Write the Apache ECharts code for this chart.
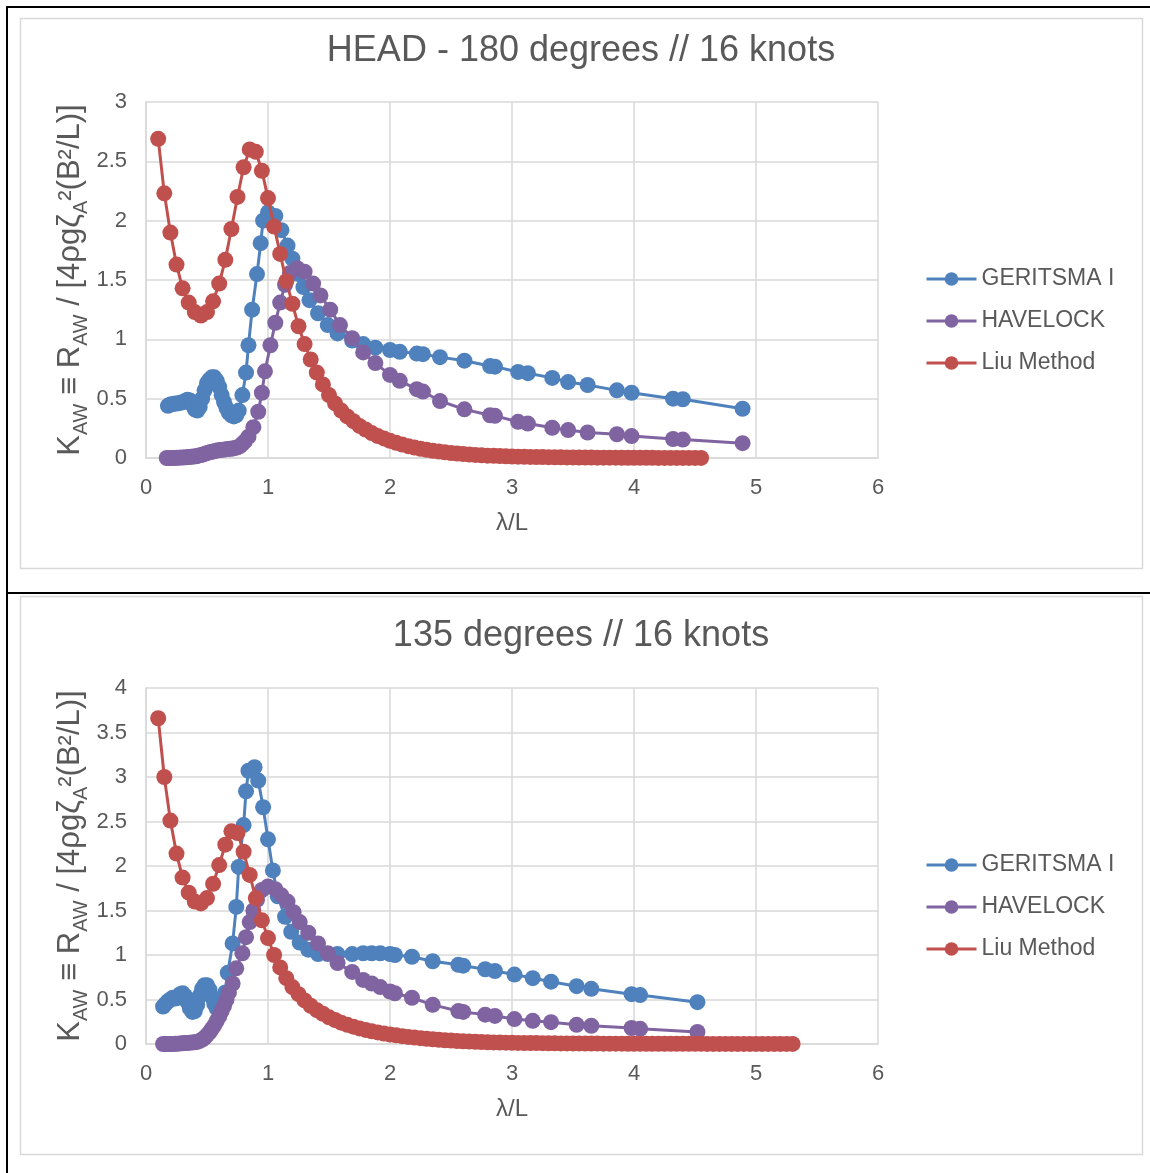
<!DOCTYPE html>
<html>
<head>
<meta charset="utf-8">
<script src="https://cdn.jsdelivr.net/npm/echarts@6/dist/echarts.min.js"></script>
<style>
  html, body { margin: 0; padding: 0; background: #ffffff; }
  #chart { width: 1150px; height: 1173px; }
</style>
</head>
<body>
<div id="chart"></div>
<script>
// ---------------- DATA ----------------
const seriesNames = ['GERITSMA I', 'HAVELOCK', 'Liu Method'];
const titles = ['HEAD - 180 degrees // 16 knots', '135 degrees // 16 knots'];
const xTicks = [0, 1, 2, 3, 4, 5, 6];
const yTicksTop = [0, 0.5, 1, 1.5, 2, 2.5, 3];
const yTicksBottom = [0, 0.5, 1, 1.5, 2, 2.5, 3, 3.5, 4];

// Chart 1: HEAD - 180 degrees
const headGeritsma = [[0.18,0.44],[0.20,0.45],[0.22,0.455],[0.24,0.46],[0.26,0.46],[0.28,0.465],[0.30,0.47],[0.32,0.48],[0.34,0.49],[0.36,0.485],[0.38,0.45],[0.40,0.41],[0.42,0.40],[0.44,0.43],[0.46,0.50],[0.48,0.57],[0.50,0.63],[0.52,0.66],[0.54,0.68],[0.56,0.68],[0.58,0.65],[0.60,0.60],[0.62,0.53],[0.64,0.47],[0.66,0.42],[0.68,0.38],[0.70,0.36],[0.72,0.35],[0.74,0.36],[0.76,0.40],[0.79,0.53],[0.82,0.72],[0.84,0.95],[0.87,1.25],[0.91,1.55],[0.94,1.81],[0.96,2.00],[1.00,2.07],[1.06,2.04],[1.11,1.92],[1.16,1.79],[1.20,1.68],[1.25,1.55],[1.29,1.44],[1.34,1.33],[1.41,1.22],[1.49,1.12],[1.57,1.05],[1.69,0.99],[1.78,0.96],[1.88,0.93],[2.00,0.91],[2.08,0.895],[2.22,0.88],[2.27,0.875],[2.41,0.85],[2.61,0.82],[2.82,0.775],[2.86,0.77],[3.05,0.725],[3.13,0.715],[3.33,0.675],[3.46,0.64],[3.62,0.615],[3.86,0.57],[3.98,0.55],[4.32,0.50],[4.40,0.495],[4.89,0.415]];
const headHavelock = [[0.17,0.0],[0.19,0.0],[0.21,0.0],[0.23,0.0],[0.25,0.002],[0.27,0.003],[0.29,0.004],[0.31,0.005],[0.33,0.006],[0.35,0.008],[0.37,0.01],[0.39,0.012],[0.41,0.015],[0.43,0.02],[0.45,0.025],[0.47,0.03],[0.49,0.038],[0.51,0.045],[0.53,0.05],[0.55,0.055],[0.57,0.06],[0.59,0.065],[0.61,0.068],[0.63,0.07],[0.65,0.072],[0.67,0.075],[0.69,0.078],[0.71,0.08],[0.73,0.085],[0.75,0.09],[0.77,0.10],[0.79,0.12],[0.81,0.14],[0.84,0.18],[0.88,0.26],[0.92,0.39],[0.95,0.55],[0.975,0.73],[1.02,0.95],[1.06,1.14],[1.10,1.31],[1.14,1.46],[1.18,1.56],[1.24,1.60],[1.30,1.57],[1.37,1.47],[1.43,1.37],[1.51,1.25],[1.59,1.12],[1.69,1.01],[1.78,0.89],[1.88,0.80],[2.00,0.70],[2.08,0.65],[2.22,0.58],[2.27,0.56],[2.41,0.48],[2.61,0.41],[2.82,0.36],[2.86,0.355],[3.05,0.305],[3.13,0.29],[3.33,0.255],[3.46,0.235],[3.62,0.215],[3.86,0.20],[3.98,0.185],[4.32,0.16],[4.40,0.155],[4.89,0.125]];
const headLiu = [[0.10,2.69],[0.15,2.23],[0.20,1.90],[0.25,1.63],[0.30,1.43],[0.35,1.31],[0.40,1.23],[0.45,1.20],[0.50,1.23],[0.55,1.32],[0.60,1.47],[0.65,1.67],[0.70,1.93],[0.75,2.20],[0.80,2.45],[0.85,2.60],[0.90,2.58],[0.95,2.42],[1.00,2.19],[1.05,1.95],[1.10,1.72],[1.15,1.49],[1.20,1.30],[1.25,1.11],[1.30,0.96],[1.35,0.83],[1.40,0.72],[1.45,0.62],[1.50,0.53],[1.55,0.46],[1.60,0.40],[1.65,0.35],[1.70,0.31],[1.75,0.27],[1.80,0.24],[1.85,0.21],[1.90,0.185],[1.95,0.165],[2.00,0.145],[2.05,0.128],[2.10,0.113],[2.15,0.10],[2.20,0.088],[2.25,0.078],[2.30,0.069],[2.35,0.061],[2.40,0.054],[2.45,0.048],[2.50,0.042],[2.55,0.037],[2.60,0.033],[2.65,0.029],[2.70,0.026],[2.75,0.023],[2.80,0.02],[2.85,0.018],[2.90,0.016],[2.95,0.014],[3.00,0.012],[3.05,0.011],[3.10,0.010],[3.15,0.009],[3.20,0.008],[3.25,0.008],[3.30,0.007],[3.35,0.006],[3.40,0.006],[3.45,0.005],[3.50,0.005],[3.55,0.004],[3.60,0.004],[3.65,0.004],[3.70,0.003],[3.75,0.003],[3.80,0.003],[3.85,0.003],[3.90,0.002],[3.95,0.002],[4.00,0.002],[4.05,0.002],[4.10,0.002],[4.15,0.002],[4.20,0.001],[4.25,0.001],[4.30,0.001],[4.35,0.001],[4.40,0.001],[4.45,0.001],[4.50,0.001],[4.55,0.001]];

// Chart 2: 135 degrees
const bowGeritsma = [[0.14,0.42],[0.16,0.45],[0.18,0.48],[0.20,0.50],[0.22,0.52],[0.24,0.51],[0.26,0.52],[0.28,0.56],[0.30,0.57],[0.32,0.54],[0.34,0.47],[0.36,0.40],[0.38,0.36],[0.40,0.37],[0.42,0.44],[0.44,0.54],[0.46,0.62],[0.48,0.66],[0.50,0.66],[0.52,0.61],[0.54,0.53],[0.56,0.45],[0.58,0.40],[0.60,0.39],[0.62,0.43],[0.65,0.58],[0.67,0.80],[0.71,1.13],[0.74,1.54],[0.76,1.99],[0.80,2.46],[0.82,2.84],[0.84,3.07],[0.89,3.11],[0.92,2.96],[0.96,2.66],[1.00,2.30],[1.04,1.95],[1.08,1.66],[1.14,1.43],[1.19,1.26],[1.26,1.14],[1.33,1.06],[1.41,1.01],[1.49,1.01],[1.57,1.01],[1.69,1.01],[1.78,1.02],[1.85,1.02],[1.92,1.02],[2.00,1.01],[2.04,1.00],[2.18,0.98],[2.35,0.93],[2.56,0.89],[2.60,0.88],[2.78,0.84],[2.86,0.82],[3.02,0.78],[3.17,0.74],[3.32,0.70],[3.53,0.65],[3.65,0.62],[3.98,0.56],[4.05,0.55],[4.52,0.47]];
const bowHavelock = [[0.14,0.0],[0.16,0.0],[0.18,0.0],[0.20,0.0],[0.22,0.0],[0.24,0.002],[0.26,0.004],[0.28,0.006],[0.30,0.008],[0.32,0.01],[0.34,0.012],[0.36,0.015],[0.38,0.018],[0.40,0.02],[0.42,0.025],[0.44,0.035],[0.46,0.05],[0.48,0.07],[0.50,0.10],[0.52,0.13],[0.54,0.17],[0.56,0.21],[0.58,0.26],[0.60,0.31],[0.62,0.37],[0.64,0.43],[0.66,0.50],[0.68,0.58],[0.71,0.68],[0.74,0.85],[0.79,1.02],[0.82,1.20],[0.85,1.37],[0.88,1.50],[0.91,1.62],[0.95,1.73],[1.00,1.77],[1.06,1.74],[1.11,1.67],[1.16,1.60],[1.21,1.48],[1.26,1.37],[1.33,1.25],[1.41,1.13],[1.49,1.02],[1.57,0.91],[1.69,0.81],[1.78,0.72],[1.85,0.68],[1.92,0.64],[2.00,0.59],[2.04,0.57],[2.18,0.52],[2.35,0.44],[2.56,0.37],[2.60,0.36],[2.78,0.33],[2.86,0.315],[3.02,0.28],[3.17,0.26],[3.32,0.245],[3.53,0.215],[3.65,0.205],[3.98,0.18],[4.05,0.17],[4.52,0.135]];
const bowLiu = [[0.10,3.66],[0.15,3.00],[0.20,2.51],[0.25,2.14],[0.30,1.87],[0.35,1.70],[0.40,1.60],[0.45,1.58],[0.50,1.64],[0.55,1.80],[0.60,2.01],[0.65,2.24],[0.70,2.39],[0.75,2.37],[0.80,2.16],[0.85,1.90],[0.90,1.64],[0.95,1.39],[1.00,1.19],[1.05,1.00],[1.10,0.86],[1.15,0.74],[1.20,0.64],[1.25,0.56],[1.30,0.49],[1.35,0.43],[1.40,0.38],[1.45,0.34],[1.50,0.30],[1.55,0.27],[1.60,0.24],[1.65,0.215],[1.70,0.195],[1.75,0.175],[1.80,0.158],[1.85,0.143],[1.90,0.13],[1.95,0.118],[2.00,0.107],[2.05,0.097],[2.10,0.088],[2.15,0.08],[2.20,0.072],[2.25,0.065],[2.30,0.058],[2.35,0.052],[2.40,0.047],[2.45,0.042],[2.50,0.038],[2.55,0.034],[2.60,0.031],[2.65,0.028],[2.70,0.025],[2.75,0.022],[2.80,0.02],[2.85,0.018],[2.90,0.016],[2.95,0.015],[3.00,0.013],[3.05,0.012],[3.10,0.011],[3.15,0.010],[3.20,0.010],[3.25,0.009],[3.30,0.008],[3.35,0.008],[3.40,0.007],[3.45,0.007],[3.50,0.006],[3.55,0.006],[3.60,0.005],[3.65,0.005],[3.70,0.005],[3.75,0.004],[3.80,0.004],[3.85,0.004],[3.90,0.004],[3.95,0.003],[4.00,0.003],[4.05,0.003],[4.10,0.003],[4.15,0.003],[4.20,0.002],[4.25,0.002],[4.30,0.002],[4.35,0.002],[4.40,0.002],[4.45,0.002],[4.50,0.002],[4.55,0.002],[4.60,0.001],[4.65,0.001],[4.70,0.001],[4.75,0.001],[4.80,0.001],[4.85,0.001],[4.90,0.001],[4.95,0.001],[5.00,0.001],[5.05,0.001],[5.10,0.001],[5.15,0.001],[5.20,0.001],[5.25,0.001],[5.30,0.001]];

// ---------------- STYLE ----------------
const colors = ['#4F81BD', '#8064A2', '#C0504D'];
const FONT = "'Liberation Sans', Arial, sans-serif";
const TXT = '#595959';
const GRIDC = '#D9D9D9';

const chart = echarts.init(document.getElementById('chart'), null, { renderer: 'canvas' });

function xAxisFor(gridIndex) {
  return {
    type: 'value', gridIndex: gridIndex,
    min: xTicks[0], max: xTicks[xTicks.length - 1], interval: 1,
    name: 'λ/L', nameLocation: 'middle', nameGap: 53,
    nameTextStyle: { color: TXT, fontSize: 24, fontFamily: FONT },
    axisLine: { show: true, lineStyle: { color: GRIDC, width: 1.5 } },
    axisTick: { show: false },
    axisLabel: { color: TXT, fontSize: 22, fontFamily: FONT, margin: 19 },
    splitLine: { show: true, lineStyle: { color: GRIDC, width: 1.5 } }
  };
}
const yName = '{m|K}{s|AW}{m| ≡ R}{s|AW}{m| / [4ρgζ}{s|A}{m|²(B²/L)]}';
function yAxisFor(gridIndex, ticks) {
  return {
    type: 'value', gridIndex: gridIndex,
    min: ticks[0], max: ticks[ticks.length - 1], interval: 0.5,
    name: yName, nameLocation: 'middle', nameGap: 55, nameMoveOverlap: false,
    nameTextStyle: {
      color: TXT, fontFamily: FONT, fontSize: 31,
      rich: {
        m: { color: TXT, fontFamily: FONT, fontSize: 31, lineHeight: 42, verticalAlign: 'middle' },
        s: { color: TXT, fontFamily: FONT, fontSize: 20, lineHeight: 22, verticalAlign: 'bottom' }
      }
    },
    axisLine: { show: true, lineStyle: { color: GRIDC, width: 1.5 } },
    axisTick: { show: false },
    axisLabel: { color: TXT, fontSize: 22, fontFamily: FONT, margin: 19 },
    splitLine: { show: true, lineStyle: { color: GRIDC, width: 1.5 } }
  };
}
function seriesFor(gridIndex, datasets) {
  return datasets.map((d, i) => ({
    name: seriesNames[i], type: 'line',
    xAxisIndex: gridIndex, yAxisIndex: gridIndex,
    data: d, symbol: 'circle', symbolSize: 16, showAllSymbol: true,
    lineStyle: { color: colors[i], width: 3 },
    itemStyle: { color: colors[i], borderWidth: 0 },
    emphasis: { disabled: true },
    z: 2 + i
  }));
}
function legendFor(top) {
  return {
    orient: 'vertical', left: 925, top: top, padding: 0,
    itemWidth: 50, itemHeight: 17, itemGap: 16, itemTextGap: 6,
    data: seriesNames,
    lineStyle: { width: 3 },
    itemStyle: { borderWidth: 0 },
    textStyle: { color: TXT, fontSize: 23, fontFamily: FONT, lineHeight: 26 }
  };
}

const option = {
  animation: false,
  backgroundColor: '#ffffff',
  color: colors,
  grid: [
    { left: 146, top: 102, width: 732, height: 356, containLabel: false },
    { left: 146, top: 688, width: 732, height: 356, containLabel: false }
  ],
  xAxis: [xAxisFor(0), xAxisFor(1)],
  yAxis: [yAxisFor(0, yTicksTop), yAxisFor(1, yTicksBottom)],
  legend: [legendFor(266), legendFor(852)],
  series: seriesFor(0, [headGeritsma, headHavelock, headLiu])
    .concat(seriesFor(1, [bowGeritsma, bowHavelock, bowLiu])),
  graphic: [
    { type: 'rect', shape: { x: 20.5, y: 18.5, width: 1122, height: 550 }, style: { fill: 'none', stroke: GRIDC, lineWidth: 1.5 }, silent: true, z: -1 },
    { type: 'rect', shape: { x: 20.5, y: 596.5, width: 1122, height: 558 }, style: { fill: 'none', stroke: GRIDC, lineWidth: 1.5 }, silent: true, z: -1 },
    { type: 'line', shape: { x1: 7, y1: 7, x2: 1150, y2: 7 }, style: { stroke: '#000', lineWidth: 2 }, silent: true },
    { type: 'line', shape: { x1: 7, y1: 6, x2: 7, y2: 1173 }, style: { stroke: '#000', lineWidth: 2 }, silent: true },
    { type: 'line', shape: { x1: 7, y1: 593, x2: 1150, y2: 593 }, style: { stroke: '#000', lineWidth: 2 }, silent: true },
    { type: 'text', x: 581, y: 51, style: { text: titles[0], fill: TXT, font: "36px " + FONT, textAlign: 'center', textVerticalAlign: 'middle' }, silent: true },
    { type: 'text', x: 581, y: 636, style: { text: titles[1], fill: TXT, font: "36px " + FONT, textAlign: 'center', textVerticalAlign: 'middle' }, silent: true }
  ]
};
chart.setOption(option);
</script>
</body>
</html>
